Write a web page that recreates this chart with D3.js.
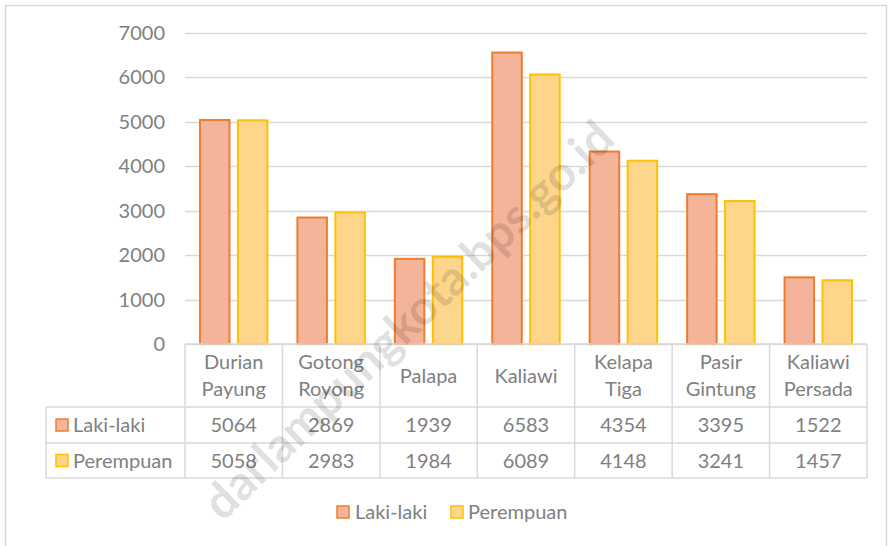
<!DOCTYPE html>
<html><head><meta charset="utf-8">
<script src="https://cdn.jsdelivr.net/npm/d3@7"></script>
<style>
body{margin:0;background:#fff;}
text{font-family:Lato,"Open Sans",sans-serif;}
</style></head>
<body><svg id="c" width="892" height="546"></svg>
<script>
const categories = [["Durian","Payung"],["Gotong","Royong"],["Palapa"],["Kaliawi"],["Kelapa","Tiga"],["Pasir","Gintung"],["Kaliawi","Persada"]];
const seriesNames = ["Laki-laki","Perempuan"];
const lakiLaki = [5064,2869,1939,6583,4354,3395,1522];
const perempuan = [5058,2983,1984,6089,4148,3241,1457];
const yTicks = [0,1000,2000,3000,4000,5000,6000,7000];
const fills = ["#F4B49A","#FDD68C"];
const strokes = ["#ED7D31","#FFC000"];
const series = [lakiLaki, perempuan];

const svg = d3.select("#c");
const textCol = "#808080", lineCol = "#d9d9d9", fs = 20;
svg.append("rect").attr("x",5.5).attr("y",5.5).attr("width",881).attr("height",560)
  .attr("fill","none").attr("stroke","#d9d9d9").attr("stroke-width",1.5);

const x0 = d3.scaleBand().domain(d3.range(categories.length)).range([185,867]).paddingInner(0).paddingOuter(0);
const x1 = d3.scaleBand().domain([0,1]).range([14,x0.bandwidth()-14]).paddingInner(0.17);
const y = d3.scaleLinear().domain([0,7000]).range([344,33]);

svg.append("g").selectAll("line").data(yTicks).join("line")
  .attr("x1",185).attr("x2",867).attr("y1",d=>Math.round(y(d))+0.5).attr("y2",d=>Math.round(y(d))+0.5)
  .attr("stroke",lineCol).attr("stroke-width",1.5);
svg.append("g").selectAll("text").data(yTicks).join("text")
  .attr("x",165).attr("y",d=>y(d)).attr("dy","0.35em").attr("text-anchor","end")
  .attr("font-size",fs).attr("fill",textCol).text(d=>d);

const g = svg.append("g");
series.forEach((s,si)=>{
  g.append("g").selectAll("rect").data(s).join("rect")
   .attr("x",(d,i)=>x0(i)+x1(si)+1).attr("width",x1.bandwidth()-2)
   .attr("y",d=>y(d)+1).attr("height",d=>y(0)-y(d)-1)
   .attr("fill",fills[si]).attr("stroke",strokes[si]).attr("stroke-width",2);
});

const tTop=344, r1=407, r2=443, tBot=478, tLeft=46, tRight=867;
const tg = svg.append("g").attr("stroke",lineCol).attr("stroke-width",1.5);
tg.append("line").attr("x1",185).attr("x2",tRight).attr("y1",tTop).attr("y2",tTop);
[r1,r2,tBot].forEach(yy=>tg.append("line").attr("x1",tLeft).attr("x2",tRight).attr("y1",yy).attr("y2",yy));
tg.append("line").attr("x1",tLeft).attr("x2",tLeft).attr("y1",r1).attr("y2",tBot);
d3.range(categories.length+1).forEach(i=>{
  const xx = i<categories.length? x0(i) : tRight;
  tg.append("line").attr("x1",xx).attr("x2",xx).attr("y1",tTop).attr("y2",tBot);
});
categories.forEach((c,i)=>{
  const cx = x0(i)+x0.bandwidth()/2;
  const t = svg.append("text").attr("x",cx).attr("text-anchor","middle").attr("font-size",fs).attr("fill",textCol);
  if(c.length===1){ t.attr("y",(tTop+r1)/2).attr("dy","0.35em").text(c[0]); }
  else { c.forEach((w,k)=>t.append("tspan").attr("x",cx).attr("y",tTop+18+k*27).attr("dy","0.35em").text(w)); }
});
[r1,r2].forEach((ry,si)=>{
  const cy=(ry+(si===0?r2:tBot))/2;
  svg.append("rect").attr("x",56).attr("y",cy-6).attr("width",12).attr("height",12)
    .attr("fill",fills[si]).attr("stroke",strokes[si]).attr("stroke-width",1.5);
  svg.append("text").attr("x",73).attr("y",cy).attr("dy","0.35em").attr("font-size",fs).attr("fill",textCol).text(seriesNames[si]);
  series[si].forEach((v,i)=>svg.append("text").attr("x",x0(i)+x0.bandwidth()/2).attr("y",cy).attr("dy","0.35em")
    .attr("text-anchor","middle").attr("font-size",fs).attr("fill",textCol).text(v));
});
const leg = [{x:337,tx:355},{x:451,tx:468}];
leg.forEach((l,si)=>{
  svg.append("rect").attr("x",l.x).attr("y",506).attr("width",12).attr("height",12)
    .attr("fill",fills[si]).attr("stroke",strokes[si]).attr("stroke-width",1.5);
  svg.append("text").attr("x",l.tx).attr("y",512).attr("dy","0.35em").attr("font-size",fs).attr("fill",textCol).text(seriesNames[si]);
});
svg.append("text").attr("transform","translate(420,332) rotate(-44)").attr("text-anchor","middle")
  .attr("font-size",48).attr("font-weight","bold").attr("fill","#000").attr("fill-opacity",0.12)
  .text("darlampungkota.bps.go.id");
</script></body></html>
